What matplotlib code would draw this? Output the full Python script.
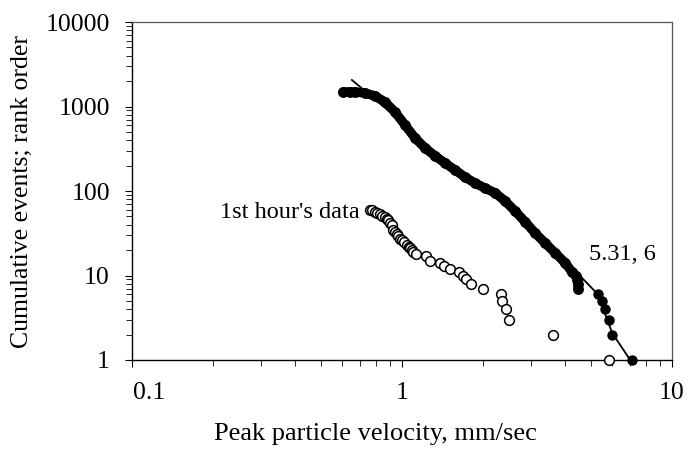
import matplotlib.pyplot as plt
from matplotlib.ticker import LogLocator, FixedLocator, NullFormatter
import matplotlib.transforms as mtransforms

plt.rcParams['font.family'] = ['Liberation Serif', 'DejaVu Serif']

# full record, rank order (dense part then the isolated large events)
all_v = [0.604, 0.640, 0.670, 0.729, 0.794, 0.865, 0.942, 1.026, 1.117, 1.217,
         1.325, 1.443, 1.572, 1.711, 1.864, 2.030, 2.21, 2.41, 2.62, 2.86,
         3.11, 3.39, 3.69, 4.02, 4.26, 4.40, 4.45, 4.47, 4.50]
all_n = [1485, 1490, 1485, 1445, 1331, 1130, 861, 604, 424, 323,
         260, 214, 177, 146, 124, 108, 95, 76, 58, 43,
         31.8, 24.2, 18.5, 14.1, 11, 10, 9, 8, 7]
big_v = [5.31, 5.49, 5.65, 5.84, 5.98, 7.1]
big_n = [6, 5, 4, 3, 2, 1]

# first hour only
hour_v = [0.760, 0.775, 0.794, 0.810, 0.829, 0.845, 0.865, 0.878, 0.890, 0.903,
          0.916, 0.929, 0.945, 0.956, 0.966, 0.983, 1.000, 1.020, 1.044, 1.060,
          1.071, 1.085, 1.098, 1.127, 1.224, 1.27, 1.383, 1.431, 1.506, 1.626,
          1.682, 1.73, 1.796, 2.0, 2.33, 2.35, 2.43, 2.50, 3.62, 5.86]
hour_n = [60, 59, 57, 55, 53, 51, 49, 47, 45, 42,
          40, 35, 33, 31, 29, 27, 26, 25, 23, 22,
          21, 20, 19, 18, 17, 15, 14, 13, 12, 11,
          10, 9, 8, 7, 6, 5, 4, 3, 2, 1]

# fitted curve
fit_v = [0.652, 0.903, 1.27, 2.12, 3.24, 4.56, 5.31, 6.0, 7.0]
fit_n = [2060, 861, 305, 103, 26.3, 9.9, 6, 2.09, 1.0]

fig = plt.figure(figsize=(6.88, 4.5), dpi=100)
ax = fig.add_axes([0.1919, 0.2, 0.7849, 0.7511])

ax.plot(fit_v, fit_n, '-', color='black', lw=1.3, zorder=2)
ax.plot(all_v, all_n, '-', color='black', lw=6.8, solid_capstyle='round', zorder=3)
ax.plot(all_v, all_n, 'o', color='black', ms=6.8, zorder=3)
ax.plot(big_v, big_n, 'o', color='black', ms=6.5, zorder=3, clip_on=False)
ax.plot(hour_v, hour_n, 'o', mfc='white', mec='black', mew=1.1, ms=7,
        zorder=4, clip_on=False)

ax.set_xscale('log')
ax.set_yscale('log')
ax.set_xlim(0.1, 10)
ax.set_ylim(1, 10000)

ax.xaxis.set_major_locator(FixedLocator([0.1, 1, 10]))
ax.set_xticklabels(['0.1', '1', '10'])
ax.yaxis.set_major_locator(FixedLocator([1, 10, 100, 1000, 10000]))
ax.set_yticklabels(['1', '10', '100', '1000', '10000'])
ax.xaxis.set_minor_locator(LogLocator(base=10, subs=range(2, 10)))
ax.yaxis.set_minor_locator(LogLocator(base=10, subs=range(2, 10)))
ax.xaxis.set_minor_formatter(NullFormatter())
ax.yaxis.set_minor_formatter(NullFormatter())

ax.tick_params(which='major', direction='out', length=5, width=0.8,
               labelsize=18.5, color='black')
ax.tick_params(which='minor', direction='out', length=4, width=0.6,
               color='black')
ax.tick_params(axis='x', which='major', pad=11)
ax.tick_params(axis='y', which='major', pad=11)

# first x label sits a little to the right of the corner
lbl = ax.get_xticklabels()[0]
lbl.set_transform(lbl.get_transform() +
                  mtransforms.ScaledTranslation(12 / 72, 0, fig.dpi_scale_trans))

for side in ('left', 'bottom'):
    ax.spines[side].set_linewidth(1.0)
    ax.spines[side].set_color('black')
for side in ('top', 'right'):
    ax.spines[side].set_linestyle((0, (1.5, 1.0)))
    ax.spines[side].set_color('#555555')
    ax.spines[side].set_linewidth(0.9)

ax.set_xlabel('Peak particle velocity, mm/sec', fontsize=19, labelpad=11)
ax.xaxis.set_label_coords(0.45, -0.185)
ax.xaxis.label.set_va('top')
ax.set_ylabel('Cumulative events; rank order', fontsize=18.5, labelpad=9)

ax.text(0.70, 55, "1st hour's data", fontsize=17.5, ha='right', va='center')
ax.text(4.93, 17.5, '5.31, 6', fontsize=17.5, ha='left', va='center')

fig.savefig('out.png', dpi=100)
